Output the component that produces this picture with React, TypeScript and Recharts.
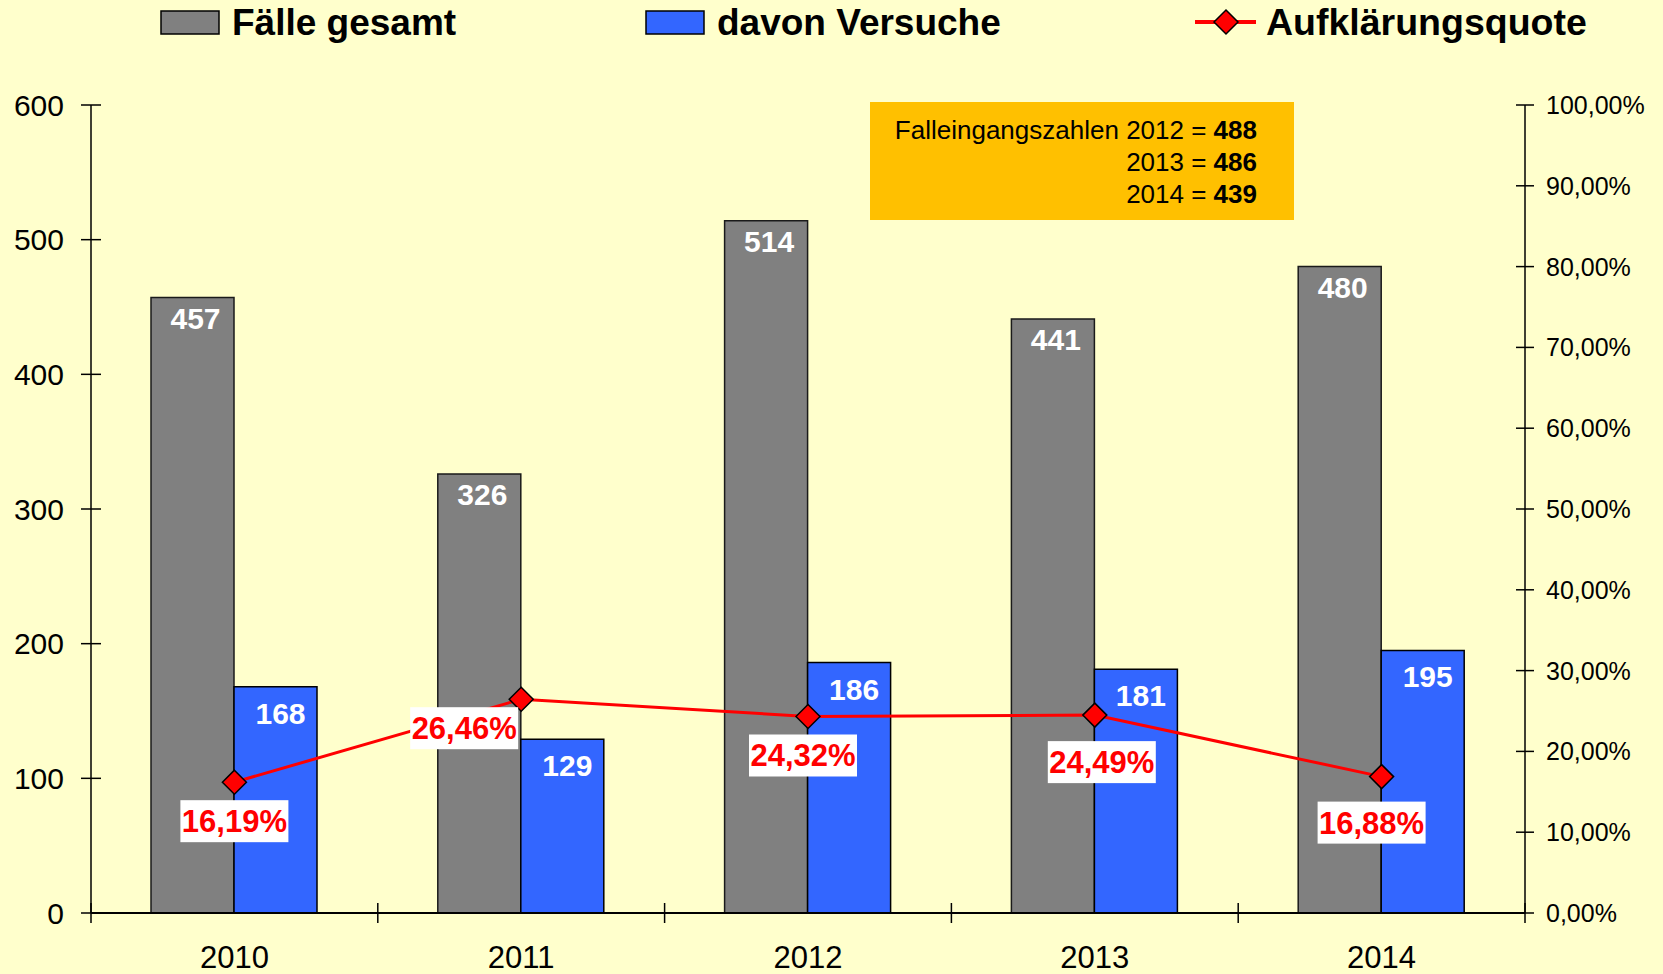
import React from "react"
import { ComposedChart, Bar, Line, XAxis, YAxis, LabelList } from "recharts"

const years = ["2010", "2011", "2012", "2013", "2014"]
const faelleGesamt = [457, 326, 514, 441, 480]
const davonVersuche = [168, 129, 186, 181, 195]
const aufklaerungsquote = [16.19, 26.46, 24.32, 24.49, 16.88]

const leftTicks = [0, 100, 200, 300, 400, 500, 600]
const rightTicks = [0, 10, 20, 30, 40, 50, 60, 70, 80, 90, 100]

const eingangJahre = ["2012", "2013", "2014"]
const eingangWerte = [488, 486, 439]

// where each percent box sits relative to its marker (dx, dy)
const quoteLabelOffsets = [
    [0, 39],
    [-57, 29],
    [-5, 39],
    [7, 47],
    [-10, 46],
]

const W = 1663
const H = 974
const PLOT_LEFT = 91
const PLOT_RIGHT = 1525
const PLOT_TOP = 105
const PLOT_BOTTOM = 913
const BAND = (PLOT_RIGHT - PLOT_LEFT) / years.length

const FONT = "'Liberation Sans', Arial, sans-serif"

const data = years.map((year, i) => ({
    year,
    gesamt: faelleGesamt[i],
    versuche: davonVersuche[i],
    quote: aufklaerungsquote[i],
}))

const pct = (v: number) => v.toFixed(2).replace(".", ",") + "%"

const LeftTick = (props: any) => {
    const { x, y, payload } = props
    return (
        <g>
            <line x1={PLOT_LEFT - 10} x2={PLOT_LEFT + 10} y1={y} y2={y} stroke="#000" strokeWidth={1.5} />
            <text x={x} y={y} dy="0.36em" textAnchor="end" fontSize={30} fontFamily={FONT} fill="#000">
                {payload.value}
            </text>
        </g>
    )
}

const RightTick = (props: any) => {
    const { x, y, payload } = props
    return (
        <g>
            <line x1={PLOT_RIGHT - 9} x2={PLOT_RIGHT + 9} y1={y} y2={y} stroke="#000" strokeWidth={1.5} />
            <text x={x} y={y} dy="0.36em" textAnchor="start" fontSize={25} fontFamily={FONT} fill="#000">
                {pct(payload.value)}
            </text>
        </g>
    )
}

const BottomTick = (props: any) => {
    const { x, payload, index } = props
    const isLast = index === years.length - 1
    return (
        <g>
            <line x1={x - BAND / 2} x2={x - BAND / 2} y1={PLOT_BOTTOM - 10} y2={PLOT_BOTTOM + 10} stroke="#000" strokeWidth={1.5} />
            {isLast && (
                <line x1={x + BAND / 2} x2={x + BAND / 2} y1={PLOT_BOTTOM - 10} y2={PLOT_BOTTOM + 10} stroke="#000" strokeWidth={1.5} />
            )}
            <text x={x} y={PLOT_BOTTOM + 55} textAnchor="middle" fontSize={31} fontFamily={FONT} fill="#000">
                {payload.value}
            </text>
        </g>
    )
}

const barValueLabel = (dx: number, dy: number) => (props: any) => {
    const { x, y, width, value } = props
    return (
        <text
            x={x + width / 2 + dx}
            y={y + dy}
            textAnchor="middle"
            fill="#ffffff"
            fontSize={30}
            fontWeight="bold"
            fontFamily={FONT}
        >
            {value}
        </text>
    )
}

const Diamond = ({ cx, cy, size = 12 }: any) => (
    <polygon
        points={`${cx},${cy - size} ${cx + size},${cy} ${cx},${cy + size} ${cx - size},${cy}`}
        fill="#ff0000"
        stroke="#000"
        strokeWidth={1.5}
    />
)

const LineDot = (props: any) => <Diamond cx={props.cx} cy={props.cy} size={12} />

const QuoteLabel = (props: any) => {
    const { x, y, value, index } = props
    const [dx, dy] = quoteLabelOffsets[index] || [0, 40]
    const cx = x + dx
    const cy = y + dy
    return (
        <g>
            <rect x={cx - 54} y={cy - 21} width={108} height={42} fill="#ffffff" />
            <text
                x={cx}
                y={cy + 11}
                textAnchor="middle"
                fill="#ff0000"
                fontSize={31}
                fontWeight="bold"
                fontFamily={FONT}
            >
                {pct(value)}
            </text>
        </g>
    )
}

function Overlay() {
    return (
        <svg width={W} height={H} style={{ position: "absolute", left: 0, top: 0, pointerEvents: "none" }} fontFamily={FONT}>
            {/* legend */}
            <rect x={161} y={11} width={58} height={23} fill="#808080" stroke="#000" strokeWidth={1.5} />
            <text x={232} y={35} fontSize={37} fontWeight="bold">Fälle gesamt</text>
            <rect x={646} y={11} width={58} height={23} fill="#3366ff" stroke="#000" strokeWidth={1.5} />
            <text x={717} y={35} fontSize={37} fontWeight="bold">davon Versuche</text>
            <line x1={1195} x2={1256} y1={22} y2={22} stroke="#ff0000" strokeWidth={4} />
            <Diamond cx={1226} cy={22} size={12} />
            <text x={1266} y={35} fontSize={37.5} fontWeight="bold">Aufklärungsquote</text>

            {/* note box */}
            <rect x={870} y={102} width={424} height={118} fill="#ffc000" />
            {eingangJahre.map((jahr, i) => (
                <text key={jahr} x={1257} y={139 + i * 32} fontSize={26} textAnchor="end" fill="#000">
                    {i === 0 ? "Falleingangszahlen " : ""}
                    {jahr} = <tspan fontWeight="bold">{eingangWerte[i]}</tspan>
                </text>
            ))}
        </svg>
    )
}

export default function App() {
    return (
        <div style={{ position: "absolute", left: 0, top: 0, width: W, height: H, background: "#ffffcc", fontFamily: FONT }}>
            <ComposedChart
                width={W}
                height={H}
                data={data}
                margin={{ top: PLOT_TOP, right: 0, bottom: 0, left: 0 }}
                barGap={0}
            >
                <XAxis
                    dataKey="year"
                    height={H - PLOT_BOTTOM}
                    stroke="#000"
                    strokeWidth={2}
                    tickLine={false}
                    tick={<BottomTick />}
                    interval={0}
                />
                <YAxis
                    yAxisId="left"
                    orientation="left"
                    width={PLOT_LEFT}
                    domain={[0, 600]}
                    ticks={leftTicks}
                    stroke="#000"
                    strokeWidth={1.5}
                    tickLine={false}
                    tickSize={10}
                    tickMargin={17}
                    tick={<LeftTick />}
                />
                <YAxis
                    yAxisId="right"
                    orientation="right"
                    width={W - PLOT_RIGHT}
                    domain={[0, 100]}
                    ticks={rightTicks}
                    stroke="#000"
                    strokeWidth={1.5}
                    tickLine={false}
                    tickSize={10}
                    tickMargin={11}
                    tick={<RightTick />}
                />
                <Bar yAxisId="left" dataKey="gesamt" name="Fälle gesamt" fill="#808080" stroke="#1a1a1a" strokeWidth={1.5} barSize={83} isAnimationActive={false}>
                    <LabelList dataKey="gesamt" content={barValueLabel(3, 31)} />
                </Bar>
                <Bar yAxisId="left" dataKey="versuche" name="davon Versuche" fill="#3366ff" stroke="#000" strokeWidth={1.5} barSize={83} isAnimationActive={false}>
                    <LabelList dataKey="versuche" content={barValueLabel(5, 37)} />
                </Bar>
                <Line
                    yAxisId="right"
                    dataKey="quote"
                    name="Aufklärungsquote"
                    stroke="#ff0000"
                    strokeWidth={3}
                    dot={<LineDot />}
                    activeDot={false}
                    isAnimationActive={false}
                >
                    <LabelList dataKey="quote" content={QuoteLabel} />
                </Line>
            </ComposedChart>
            <Overlay />
        </div>
    )
}
